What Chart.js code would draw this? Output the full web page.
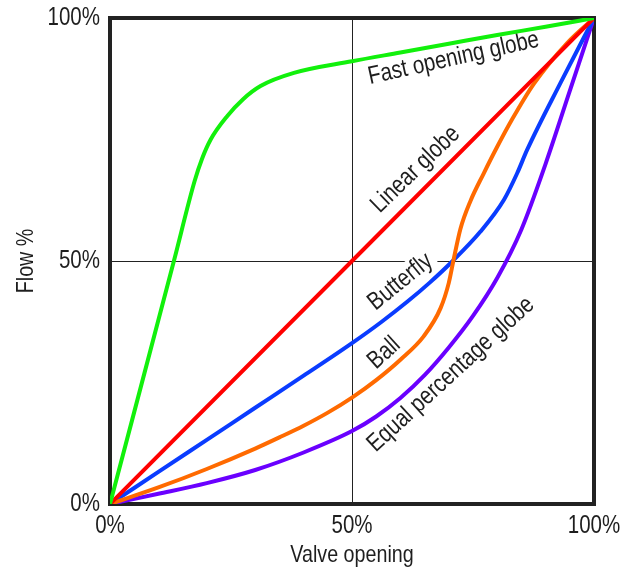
<!DOCTYPE html>
<html>
<head>
<meta charset="utf-8">
<script src="https://cdn.jsdelivr.net/npm/chart.js@4.4.1/dist/chart.umd.min.js"></script>
<style>
  html, body { margin: 0; padding: 0; background: #fff; }
  #wrap { width: 622px; height: 571px; }
</style>
</head>
<body>
<div id="wrap"><canvas id="c" width="622" height="571"></canvas></div>
<script>
// Inherent flow characteristics of common control valves
// (valve opening % on x, flow % on y)
const fastOpeningX = [0, 13.2, 17.5, 19, 20.8, 24.2, 27.5, 31.1, 38, 50, 60, 70, 80, 90, 100];
const fastOpeningY = [0, 50, 66.5, 71, 75, 79.8, 83.3, 86, 88.7, 91.1, 92.9, 94.7, 96.5, 98.2, 100];

const linearX = [0, 100];
const linearY = [0, 100];

const butterflyX = [0, 10, 20, 30, 40, 50, 56, 61.4, 66, 70.7, 76.5, 81.4, 84.1, 86.2, 93, 100];
const butterflyY = [0, 6.6, 13.2, 19.8, 26.4, 33.1, 37.4, 41.6, 45.5, 49.9, 56, 62.6, 68, 72.9, 86.5, 100];

const ballX = [0, 10, 20, 30, 35, 40, 45, 50, 55, 60, 64.8, 68.3, 70, 71, 72.4, 74.5, 77.2, 80, 83, 87.6, 94.5, 100];
const ballY = [0, 3.4, 7.2, 11.4, 13.7, 16.1, 18.8, 21.9, 25.5, 29.7, 34.5, 40.3, 45.5, 50.3, 56.6, 62.4, 68, 73.5, 79, 86.5, 94.9, 100];

const equalPctX = [0, 10, 20, 30, 40, 50, 55, 60, 65, 70, 75, 80, 85, 90, 95, 100];
const equalPctY = [0, 2.1, 4.3, 7.0, 10.6, 15.0, 18.0, 21.8, 26.5, 32.2, 38.7, 46.5, 56.5, 70, 85, 100];

const tickValues = [0, 50, 100];
const tickLabels = ['0%', '50%', '100%'];

const seriesNames = ['Fast opening globe', 'Linear globe', 'Ball', 'Butterfly', 'Equal percentage globe'];

const FONT = "'Liberation Sans', Arial, sans-serif";
const NARROW = 0.82;          // horizontal squeeze giving a narrow face
const INK = '#1e1e1e';

const canvas = document.getElementById('c');
const c2d = canvas.getContext('2d');
// every string on this canvas is set in a narrow (condensed) style
const plainFillText = c2d.fillText.bind(c2d);
c2d.fillText = function (text, x, y, maxWidth) {
  this.save();
  this.translate(x, y);
  this.scale(NARROW, 1);
  if (maxWidth !== undefined) plainFillText(text, 0, 0, maxWidth / NARROW);
  else plainFillText(text, 0, 0);
  this.restore();
};

function pts(xs, ys) { return xs.map((x, i) => ({ x: x, y: ys[i] })); }

function line(label, xs, ys, color) {
  return {
    label: label,
    data: pts(xs, ys),
    borderColor: color,
    backgroundColor: color,
    borderWidth: 4,
    pointRadius: 0,
    fill: false,
    cubicInterpolationMode: 'monotone',
    borderCapStyle: 'round',
    borderJoinStyle: 'round'
  };
}

// Curve names written along each curve (anchor = baseline centre, in data units)
const curveLabels = [
  { text: 'Fast opening globe', x: 71.3, y: 90.3, angle: -12.5 },
  { text: 'Linear globe', x: 64.1, y: 67.8, angle: -44 },
  { text: 'Butterfly', x: 60.9, y: 44.6, angle: -39 },
  { text: 'Ball', x: 57.6, y: 30.0, angle: -42 },
  { text: 'Equal percentage globe', x: 71.4, y: 25.6, angle: -42.5 }
];

const framePlugin = {
  id: 'frameAndLabels',
  beforeDatasetsDraw(chart) {
    const { ctx, chartArea: a, scales } = chart;
    ctx.save();
    // curve names with a white backing that breaks the grid lines
    ctx.font = '25px ' + FONT;
    ctx.textAlign = 'center';
    ctx.textBaseline = 'alphabetic';
    curveLabels.forEach(l => {
      const px = scales.x.getPixelForValue(l.x);
      const py = scales.y.getPixelForValue(l.y);
      const w = ctx.measureText(l.text).width * NARROW;
      ctx.save();
      ctx.translate(px, py);
      ctx.rotate(l.angle * Math.PI / 180);
      ctx.fillStyle = '#ffffff';
      ctx.fillRect(-w / 2 - 4, -20, w + 8, 24);
      ctx.fillStyle = INK;
      ctx.fillText(l.text, 0, 0);
      ctx.restore();
    });
    // heavy frame around the plot
    ctx.strokeStyle = '#222';
    ctx.lineWidth = 4;
    ctx.strokeRect(a.left, a.top, a.right - a.left, a.bottom - a.top);
    ctx.restore();
  }
};

const gridOpts = {
  color: c => (c.tick && c.tick.value === 50) ? '#222' : 'rgba(0,0,0,0)',
  lineWidth: 1,
  drawTicks: false
};

function fixBox(size, prop) {
  return s => {
    s[prop] = size;
    s.paddingLeft = 0; s.paddingRight = 0; s.paddingTop = 0; s.paddingBottom = 0;
  };
}

new Chart(canvas, {
  type: 'line',
  data: {
    datasets: [
      line(seriesNames[0], fastOpeningX, fastOpeningY, '#12f00c'),
      line(seriesNames[1], linearX, linearY, '#ff0000'),
      line(seriesNames[2], ballX, ballY, '#ff6a00'),
      line(seriesNames[3], butterflyX, butterflyY, '#0a3cff'),
      line(seriesNames[4], equalPctX, equalPctY, '#6a00ff')
    ]
  },
  options: {
    responsive: false,
    animation: false,
    devicePixelRatio: 1,
    layout: { padding: { top: 18, right: 28, left: 0, bottom: 0 } },
    plugins: { legend: { display: false }, tooltip: { enabled: false } },
    scales: {
      x: {
        type: 'linear',
        min: 0, max: 100,
        afterBuildTicks: s => { s.ticks = tickValues.map(v => ({ value: v })); },
        afterFit: fixBox(67, 'height'),
        ticks: {
          callback: (v) => tickLabels[tickValues.indexOf(v)],
          color: INK,
          font: { family: FONT, size: 25 },
          padding: 7,
          maxRotation: 0
        },
        grid: gridOpts,
        border: { display: false },
        title: {
          display: true,
          text: 'Valve opening',
          color: INK,
          font: { family: FONT, size: 24, lineHeight: 1.2 },
          padding: { top: 0, bottom: 1 }
        }
      },
      y: {
        type: 'linear',
        min: 0, max: 100,
        afterBuildTicks: s => { s.ticks = tickValues.map(v => ({ value: v })); },
        afterFit: fixBox(110, 'width'),
        ticks: {
          callback: (v) => tickLabels[tickValues.indexOf(v)],
          color: INK,
          font: { family: FONT, size: 25 },
          padding: 10
        },
        grid: gridOpts,
        border: { display: false },
        title: {
          display: true,
          text: 'Flow %',
          color: INK,
          font: { family: FONT, size: 24, lineHeight: 1.2 },
          padding: { top: 12, bottom: 0 }
        }
      }
    }
  },
  plugins: [framePlugin]
});
</script>
</body>
</html>
